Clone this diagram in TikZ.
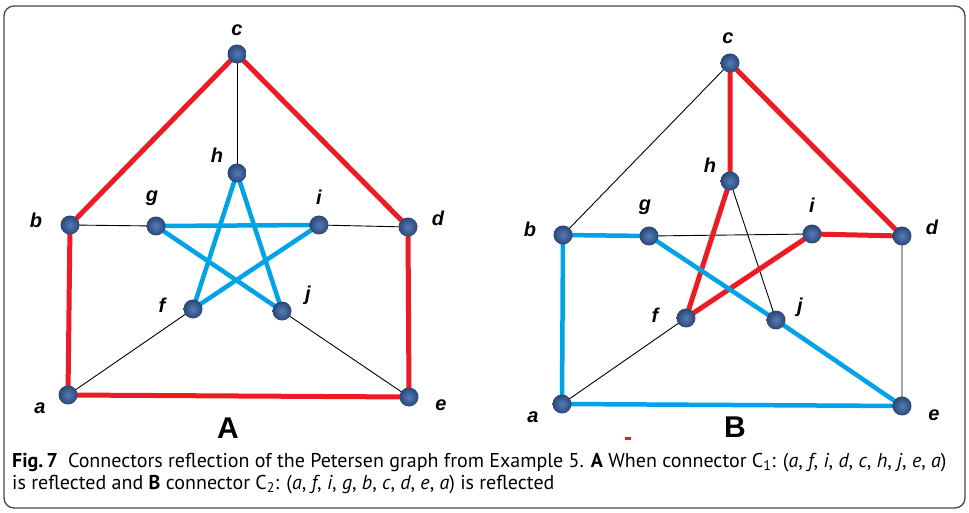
\documentclass[tikz,border=0pt]{standalone}
\usepackage{xcolor}
\usepackage{fontspec}
\usepackage{tikz}
\usetikzlibrary{positioning, backgrounds}

\newfontfamily\lblfont{Liberation Sans}
\newfontfamily\capfont{PT Sans}

\definecolor{redline}{RGB}{237,28,36}
\definecolor{blueline}{RGB}{0,162,232}
\definecolor{vtxlight}{RGB}{84,124,184}
\definecolor{vtxdark}{RGB}{44,70,118}
\definecolor{framegray}{RGB}{70,70,70}

\begin{document}
\begin{tikzpicture}[
  x=1pt, y=-1pt,
  vertex/.style={circle, inner sep=0pt, minimum size=19pt, inner color=vtxlight, outer color=vtxdark},
  lbl/.style={font=\lblfont\bfseries\itshape\fontsize{20}{20}\selectfont, inner sep=0pt},
  panel/.style={font=\lblfont\bfseries\fontsize{30}{30}\selectfont, inner sep=0pt},
  redpath/.style={draw=redline, line width=5pt},
  bluepath/.style={draw=blueline, line width=4.5pt},
  plainedge/.style={draw=black, line width=0.9pt},
  captext/.style={font=\capfont\fontsize{20}{21}\selectfont, anchor=base west, inner sep=0pt}
]
\useasboundingbox (0,0) rectangle (969,513);
\draw[framegray, line width=1.3pt, rounded corners=10pt] (4,6) rectangle (965,508);

% panel A
\node[vertex] (a1) at (68,395) {};
\node[vertex] (b1) at (70,225) {};
\node[vertex] (c1) at (237,54) {};
\node[vertex] (d1) at (408,227) {};
\node[vertex] (e1) at (409,397) {};
\node[vertex] (f1) at (193,309) {};
\node[vertex] (g1) at (156,226) {};
\node[vertex] (h1) at (237,173) {};
\node[vertex] (i1) at (319,225) {};
\node[vertex] (j1) at (282,311) {};

\node[lbl] (la1) at (40,408) {a};
\node[lbl] (lb1) at (36,220) {b};
\node[lbl] (lc1) at (237,30) {c};
\node[lbl] (ld1) at (438,218) {d};
\node[lbl] (le1) at (441,405) {e};
\node[lbl] (lf1) at (162,305) {f};
\node[lbl] (lg1) at (152,198) {g};
\node[lbl] (lh1) at (217,155) {h};
\node[lbl] (li1) at (319,197) {i};
\node[lbl] (lj1) at (308,295) {j};
\node[panel] (pA) at (228,428) {A};

\begin{scope}[on background layer]
  \draw[plainedge] (c1.center) -- (h1.center);
  \draw[plainedge] (b1.center) -- (g1.center) (i1.center) -- (d1.center);
  \draw[plainedge] (a1.center) -- (f1.center) (j1.center) -- (e1.center);
  \draw[redpath] (a1.center) -- (b1.center) -- (c1.center) -- (d1.center) -- (e1.center) -- cycle;
  \draw[bluepath] (g1.center) -- (i1.center) -- (f1.center) -- (h1.center) -- (j1.center) -- cycle;
\end{scope}

% panel B
\node[vertex] (a2) at (562,404) {};
\node[vertex] (b2) at (563,235) {};
\node[vertex] (c2) at (730,63) {};
\node[vertex] (d2) at (902,236) {};
\node[vertex] (e2) at (902,406) {};
\node[vertex] (f2) at (686,318) {};
\node[vertex] (g2) at (649,236) {};
\node[vertex] (h2) at (730,181) {};
\node[vertex] (i2) at (812,234) {};
\node[vertex] (j2) at (776,320) {};

\node[lbl] (la2) at (533,417) {a};
\node[lbl] (lb2) at (530,229) {b};
\node[lbl] (lc2) at (728,38) {c};
\node[lbl] (ld2) at (932,227) {d};
\node[lbl] (le2) at (934,415) {e};
\node[lbl] (lf2) at (655,315) {f};
\node[lbl] (lg2) at (645,207) {g};
\node[lbl] (lh2) at (710,165) {h};
\node[lbl] (li2) at (812,205) {i};
\node[lbl] (lj2) at (800,307) {j};
\node[panel] (pB) at (735,427) {B};
\fill[redline] (625,436.5) rectangle (631,440);

\begin{scope}[on background layer]
  \draw[plainedge] (c2.center) -- (b2.center);
  \draw[plainedge] (g2.center) -- (i2.center) (h2.center) -- (j2.center);
  \draw[plainedge] (a2.center) -- (f2.center) (d2.center) -- (e2.center);
  \draw[redpath] (h2.center) -- (c2.center) -- (d2.center) -- (i2.center) -- (f2.center) -- cycle;
  \draw[bluepath] (g2.center) -- (b2.center) -- (a2.center) -- (e2.center) -- (j2.center) -- cycle;
\end{scope}

% caption
\node[captext] (cap1) at (12,467) {\textbf{Fig.\,7}\enspace Connectors reflection of the Petersen graph from Example 5. \textbf{A} When connector C\textsubscript{1}: (\textit{a}, \textit{f}, \textit{i}, \textit{d}, \textit{c}, \textit{h}, \textit{j}, \textit{e}, \textit{a})};
\node[captext] (cap2) at (12,489) {is reflected and \textbf{B} connector C\textsubscript{2}: (\textit{a}, \textit{f}, \textit{i}, \textit{g}, \textit{b}, \textit{c}, \textit{d}, \textit{e}, \textit{a}) is reflected};
\end{tikzpicture}
\end{document}
